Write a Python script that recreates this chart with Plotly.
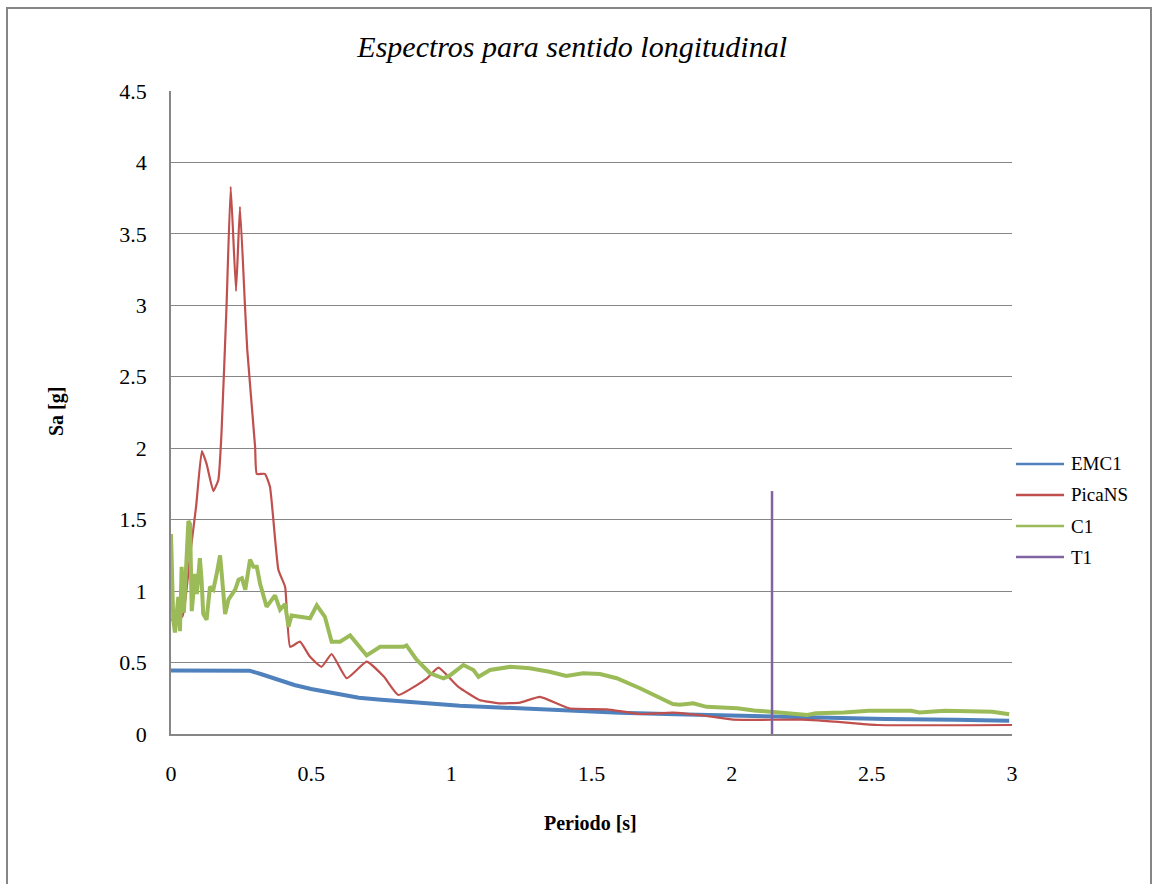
import plotly.graph_objects as go

# ---- data ----
emc1_t = [0, 0.1, 0.2, 0.28, 0.32, 0.4, 0.44, 0.5, 0.6, 0.67, 0.75, 0.85, 0.96, 1.03, 1.2, 1.4, 1.5, 1.6, 1.8, 1.96, 2.03, 2.2, 2.4, 2.55, 2.8, 2.99]
emc1_v = [0.445, 0.445, 0.445, 0.443, 0.42, 0.37, 0.343, 0.315, 0.278, 0.254, 0.24, 0.222, 0.208, 0.198, 0.182, 0.165, 0.152, 0.148, 0.138, 0.13, 0.128, 0.12, 0.112, 0.105, 0.10, 0.093]

pica_t = [0, 0.04, 0.068, 0.09, 0.11, 0.127, 0.151, 0.169, 0.18, 0.198, 0.213, 0.232, 0.246, 0.264, 0.272, 0.30, 0.306,
          0.335, 0.353, 0.383, 0.407, 0.425, 0.46, 0.496, 0.537, 0.573, 0.627, 0.698, 0.76, 0.811, 0.913, 0.954,
          1.025, 1.10, 1.17, 1.245, 1.316, 1.42, 1.554, 1.673, 1.79, 1.91, 2.006, 2.25, 2.41, 2.52, 3.0]
pica_v = [0.8, 0.82, 1.25, 1.6, 1.98, 1.89, 1.70, 1.78, 2.10, 2.99, 3.83, 3.10, 3.69, 2.99, 2.69, 2.01, 1.82,
          1.82, 1.73, 1.15, 1.03, 0.61, 0.646, 0.54, 0.47, 0.56, 0.39, 0.506, 0.40, 0.273, 0.39, 0.464,
          0.33, 0.238, 0.215, 0.22, 0.26, 0.18, 0.173, 0.14, 0.149, 0.126, 0.10, 0.10, 0.08, 0.063, 0.063]

c1_t = [0, 0.008, 0.014, 0.026, 0.032, 0.038, 0.046, 0.062, 0.068, 0.074, 0.086, 0.092, 0.103, 0.109, 0.115,
        0.127, 0.139, 0.151, 0.163, 0.175, 0.181, 0.193, 0.205, 0.217, 0.229, 0.241, 0.253, 0.265, 0.282,
        0.294, 0.306, 0.318, 0.341, 0.371, 0.389, 0.407, 0.419, 0.43, 0.496, 0.52, 0.549, 0.573, 0.603,
        0.639, 0.698, 0.746, 0.829, 0.84, 0.876, 0.924, 0.972, 0.995, 1.043, 1.079, 1.097, 1.138, 1.21,
        1.28, 1.35, 1.41, 1.47, 1.53, 1.59, 1.673, 1.733, 1.79, 1.815, 1.863, 1.91, 2.02, 2.08, 2.16,
        2.27, 2.30, 2.40, 2.49, 2.64, 2.67, 2.76, 2.93, 2.99]
c1_v = [1.40, 0.80, 0.71, 0.96, 0.72, 1.17, 0.85, 1.49, 1.47, 0.86, 1.12, 0.98, 1.23, 1.08, 0.84,
        0.80, 1.03, 1.01, 1.12, 1.25, 1.12, 0.84, 0.94, 0.98, 1.01, 1.08, 1.09, 1.01, 1.22,
        1.17, 1.17, 1.05, 0.89, 0.97, 0.87, 0.91, 0.75, 0.83, 0.81, 0.90, 0.82, 0.646, 0.646,
        0.69, 0.55, 0.61, 0.61, 0.62, 0.52, 0.425, 0.39, 0.41, 0.483, 0.448, 0.40, 0.448, 0.47,
        0.46, 0.436, 0.406, 0.425, 0.42, 0.39, 0.32, 0.26, 0.21, 0.205, 0.215, 0.19, 0.18, 0.165, 0.15,
        0.133, 0.145, 0.15, 0.163, 0.163, 0.15, 0.163, 0.156, 0.138]

t1_t = [2.144, 2.144]
t1_v = [0, 1.70]

x_ticks = [0, 0.5, 1, 1.5, 2, 2.5, 3]
y_ticks = [0, 0.5, 1, 1.5, 2, 2.5, 3, 3.5, 4, 4.5]

series_names = ["EMC1", "PicaNS", "C1", "T1"]
series_colors = ["#4F81BD", "#C0504D", "#9BBB59", "#8064A2"]
series_widths = [4, 2.2, 4, 2.5]

SERIF = "Liberation Serif, Times New Roman, serif"

# plot-area geometry (pixels) for placing paper-referenced decorations
W, H = 1154, 884
L, R, T, B = 171, 1012, 91, 734
PW, PH = R - L, B - T


def px(x):
    return (x - L) / PW


def py(y):
    return (B - y) / PH


fig = go.Figure()
series = [(emc1_t, emc1_v), (pica_t, pica_v), (c1_t, c1_v), (t1_t, t1_v)]
for (xs, ys), nm, col, wd in zip(series, series_names, series_colors, series_widths):
    line = dict(color=col, width=wd)
    if nm == "PicaNS":
        line.update(shape="spline", smoothing=0.4)
    fig.add_trace(go.Scatter(x=xs, y=ys, mode="lines", name=nm, line=line, showlegend=False))

# custom legend (longer line samples than Plotly's default)
shapes = [
    dict(type="rect", xref="paper", yref="paper", x0=px(7), x1=px(1151),
         y0=-0.4, y1=py(8), line=dict(color="#868686", width=2), layer="below"),
]
annotations = [
    dict(text="<b>Sa [g]</b>", xref="paper", yref="paper", x=px(57), y=py(412),
         textangle=-90, showarrow=False, font=dict(size=20, family=SERIF), xanchor="center", yanchor="middle"),
    dict(text="<b>Periodo [s]</b>", xref="paper", yref="paper", x=px(590), y=py(823),
         showarrow=False, font=dict(size=20, family=SERIF), xanchor="center", yanchor="middle"),
]
leg_y = [464, 495, 526, 557]
for nm, col, yy in zip(series_names, series_colors, leg_y):
    shapes.append(dict(type="line", xref="paper", yref="paper", x0=px(1016), x1=px(1064),
                       y0=py(yy), y1=py(yy), line=dict(color=col, width=2.5)))
    annotations.append(dict(text=nm, xref="paper", yref="paper", x=px(1069), y=py(yy),
                            xanchor="left", yanchor="middle", showarrow=False,
                            font=dict(size=19, family=SERIF)))

fig.update_layout(
    width=W, height=H,
    margin=dict(l=L, r=W - R, t=T, b=H - B),
    paper_bgcolor="white", plot_bgcolor="white",
    font=dict(family=SERIF, color="black"),
    title=dict(text="<i>Espectros para sentido longitudinal</i>", x=px(588), xanchor="center",
               y=1 - 46 / H, yanchor="middle", font=dict(size=30, family=SERIF)),
    showlegend=False,
    xaxis=dict(range=[0, 3], tickvals=x_ticks, ticktext=[str(v) for v in x_ticks],
               showgrid=False, zeroline=False, showline=True, linecolor="#868686", linewidth=2,
               ticks="", tickfont=dict(size=22, family=SERIF), ticklabelstandoff=19),
    yaxis=dict(range=[0, 4.5], tickvals=y_ticks, ticktext=[str(v) for v in y_ticks],
               showgrid=True, gridcolor="#868686", gridwidth=1.2, zeroline=False,
               showline=True, linecolor="#868686", linewidth=1.5,
               ticks="", tickfont=dict(size=22, family=SERIF), ticklabelstandoff=18),
    annotations=annotations,
    shapes=shapes,
)

fig.write_html("out.html")
